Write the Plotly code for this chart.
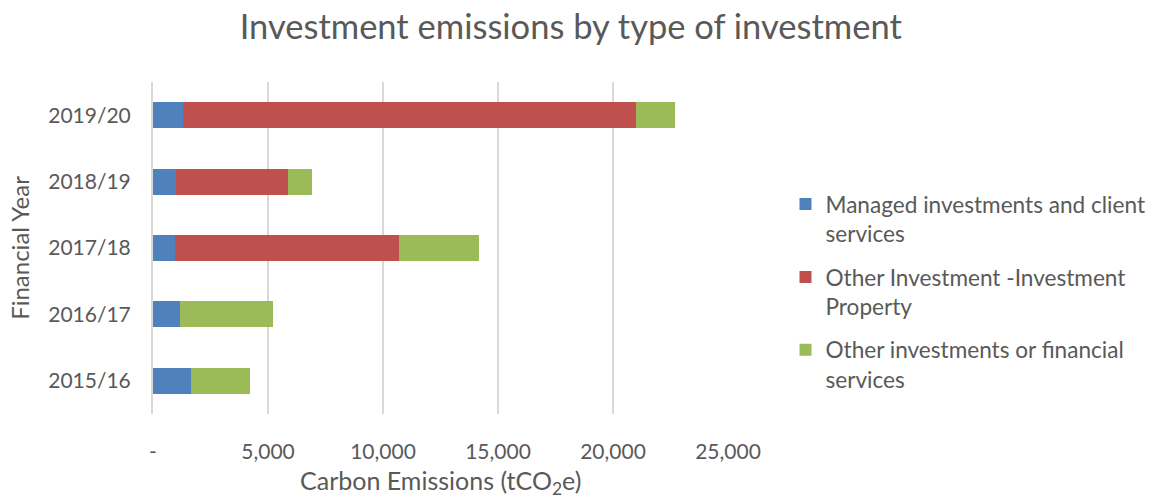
import plotly.graph_objects as go

# Financial years, bottom to top
years = ["2015/16", "2016/17", "2017/18", "2018/19", "2019/20"]

# Emissions (tCO2e) per investment type
managed = [1667, 1188, 957, 1014, 1319]
property_inv = [0, 0, 9753, 4870, 19689]
other_fin = [2565, 4029, 3449, 1015, 1707]

series_names = [
    "Managed investments and client<br>services",
    "Other Investment -Investment<br>Property",
    "Other investments or financial<br>services",
]
series_colors = ["#4F81BD", "#C0504D", "#9BBB59"]

x_tick_vals = [0, 5000, 10000, 15000, 20000, 25000]
x_tick_text = ["-", "5,000", "10,000", "15,000", "20,000", "25,000"]

FONT = "Lato"
GREY = "#595959"

fig = go.Figure()
for i, (name, vals, col) in enumerate(zip(series_names, [managed, property_inv, other_fin], series_colors)):
    fig.add_trace(go.Bar(
        y=years, x=vals, name=name, orientation="h",
        marker=dict(color=col, line=dict(width=0)),
        legendgroup=f"g{i}",
    ))

fig.update_layout(
    barmode="stack",
    bargap=0.61,
    width=1153, height=497,
    margin=dict(l=153, r=425, t=82, b=83, autoexpand=False),
    paper_bgcolor="white", plot_bgcolor="white",
    font=dict(family=FONT, color=GREY),
    title=dict(
        text="Investment emissions by type of investment",
        x=0.495, xanchor="center", xref="container",
        y=0.945, yanchor="middle",
        font=dict(family=FONT, size=34.5, color=GREY),
    ),
    xaxis=dict(
        range=[0, 25000],
        tickvals=x_tick_vals, ticktext=x_tick_text,
        showgrid=True, gridcolor="#D9D9D9", gridwidth=2,
        zeroline=False, showline=False,
        ticks="", ticklabelstandoff=23,
        tickfont=dict(size=21, color=GREY),
    ),
    yaxis=dict(
        categoryorder="array", categoryarray=years,
        showline=True, linecolor="#D9D9D9", linewidth=2,
        ticks="", ticklabelstandoff=16,
        tickfont=dict(size=21, color=GREY),
        title=dict(text="Financial Year", font=dict(size=24, color=GREY), standoff=12),
    ),
    legend=dict(
        x=1.1, xanchor="left", y=0.696, yanchor="top",
        traceorder="grouped", valign="top",
        tracegroupgap=11,
        font=dict(size=22.6, color=GREY),
        bgcolor="rgba(0,0,0,0)",
    ),
)

# x-axis title placed below the tick labels
fig.add_annotation(
    text="Carbon Emissions (tCO<sub>2</sub>e)",
    xref="paper", yref="paper", x=0.5, y=-0.205,
    xanchor="center", yanchor="middle", showarrow=False,
    borderpad=0,
    font=dict(family=FONT, size=25, color=GREY),
)

fig.write_html("out.html")
